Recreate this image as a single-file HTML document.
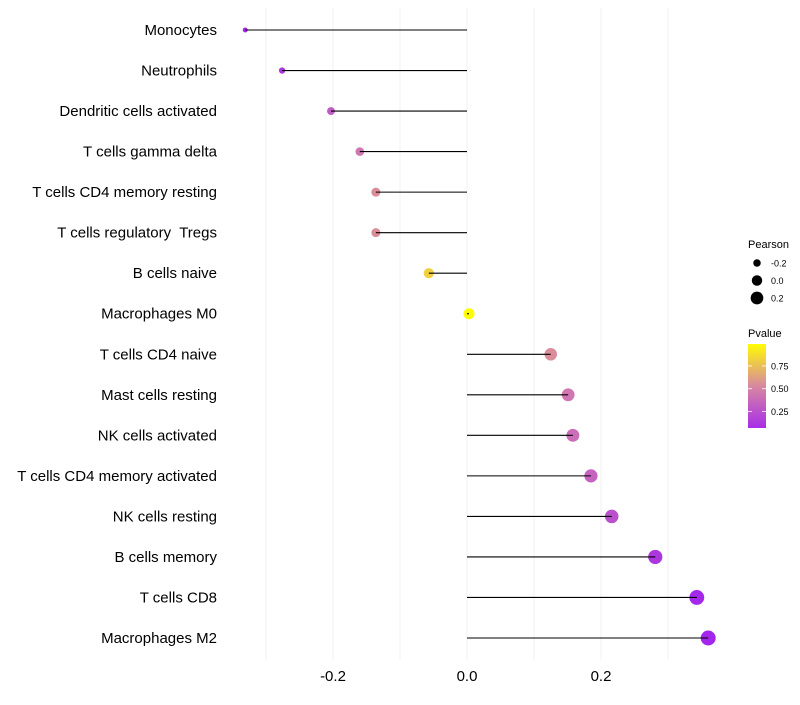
<!DOCTYPE html>
<html><head><meta charset="utf-8"><style>
body{margin:0;background:#fff;font-family:"Liberation Sans",sans-serif}
svg text{font-family:"Liberation Sans",sans-serif;white-space:pre}
</style></head><body>
<svg id="chart" width="800" height="700"></svg>
<script>
const categories=["Monocytes","Neutrophils","Dendritic cells activated","T cells gamma delta","T cells CD4 memory resting","T cells regulatory  Tregs","B cells naive","Macrophages M0","T cells CD4 naive","Mast cells resting","NK cells activated","T cells CD4 memory activated","NK cells resting","B cells memory","T cells CD8","Macrophages M2"];
const pearson=[-0.331,-0.276,-0.203,-0.160,-0.136,-0.136,-0.057,0.003,0.125,0.151,0.158,0.185,0.216,0.281,0.343,0.360];
const pvalues=[0.05,0.12,0.30,0.45,0.55,0.55,0.82,0.99,0.55,0.45,0.40,0.35,0.25,0.12,0.04,0.03];
const xTicks=[-0.2,0.0,0.2];
const xGrid=[-0.3,-0.2,-0.1,0,0.1,0.2,0.3];
const sizeLegend=[-0.2,0.0,0.2];
const colorLegend=[0.25,0.5,0.75];

const NS="http://www.w3.org/2000/svg";
const svg=document.getElementById('chart');
function mk(t,a,p){const e=document.createElementNS(NS,t);for(const k in a)e.setAttribute(k,a[k]);(p||svg).appendChild(e);return e;}
const x=v=>467+v*670;
const y=i=>30+i*(608/15);
const r=v=>Math.sqrt(Math.max(1,30.2+72.5*v));
function lerp(a,b,t){return a.map((c,i)=>Math.round(c+(b[i]-c)*t));}
function col(p){const s0=[160,32,240],s1=[214,128,170],s2=[255,255,0];
 const c=p<0.5?lerp(s0,s1,p/0.5):lerp(s1,s2,(p-0.5)/0.5);return `rgb(${c})`;}

const grid=mk('g',{});


xGrid.forEach(v=>{const l=mk('line',{x1:x(v),x2:x(v),y1:8,y2:660,stroke:'#f0f0f0','stroke-width':1},grid);
 
 });

categories.forEach((c,i)=>{
 const t=mk('text',{x:217,y:y(i)+5,'text-anchor':'end','font-size':15,fill:'#000'});t.textContent=c;
 
 
 const v=pearson[i];
 const pt=mk('circle',{cx:x(v),cy:y(i),r:r(v),fill:col(pvalues[i])});
 
 
 const ln=mk('line',{x1:x(0),x2:x(v),y1:y(i),y2:y(i),stroke:'#000','stroke-width':1.1});
 
 
});
xTicks.forEach(v=>{const t=mk('text',{x:x(v),y:681,'text-anchor':'middle','font-size':15,fill:'#000'});t.textContent=v.toFixed(1);
 
 });

const lg=mk('g',{});


let t=mk('text',{x:748,y:248,'font-size':11,fill:'#000'},lg);t.textContent='Pearson';
sizeLegend.forEach((v,i)=>{const cy=263+i*17.5;
 const c=mk('circle',{cx:757,cy:cy,r:r(v)*0.95,fill:'#000'},lg);
 
 
 const tt=mk('text',{x:771,y:cy+3.5,'font-size':9,fill:'#000'},lg);tt.textContent=v.toFixed(1);});
t=mk('text',{x:748,y:337,'font-size':11,fill:'#000'},lg);t.textContent='Pvalue';
const defs=mk('defs',{});const gr=mk('linearGradient',{id:'pg',x1:0,y1:1,x2:0,y2:0},defs);
[0,0.25,0.5,0.75,1].forEach(s=>mk('stop',{offset:s,'stop-color':col(0.07+s*0.92)},gr));
const bar=mk('rect',{x:748,y:344,width:18,height:84,fill:'url(#pg)'},lg);


const py=p=>428-(p-0.07)/0.92*84;
colorLegend.forEach(p=>{mk('line',{x1:748,x2:752,y1:py(p),y2:py(p),stroke:'#fff','stroke-width':0.8},lg);
 mk('line',{x1:762,x2:766,y1:py(p),y2:py(p),stroke:'#fff','stroke-width':0.8},lg);
 const tt=mk('text',{x:771,y:py(p)+3.5,'font-size':9,fill:'#000'},lg);tt.textContent=p.toFixed(2);});
</script>
</body></html>
